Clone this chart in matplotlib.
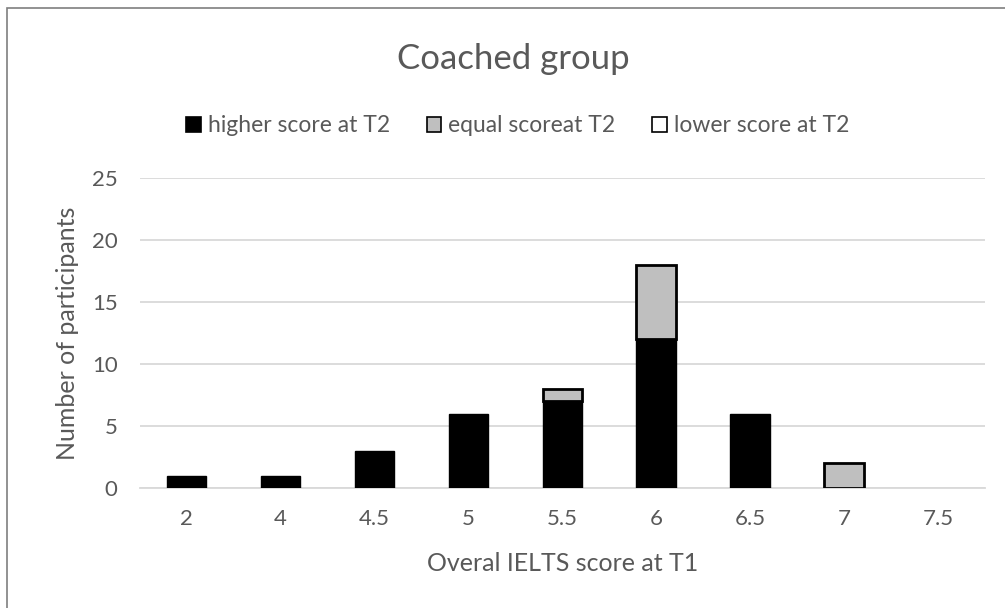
import matplotlib.pyplot as plt
from matplotlib.patches import Rectangle
import numpy as np

# scores at T1 (categories)
scores = ['2', '4', '4.5', '5', '5.5', '6', '6.5', '7', '7.5']
# counts per outcome
higher = [1, 1, 3, 6, 7, 12, 6, 0, 0]
equal = [0, 0, 0, 0, 1, 6, 0, 2, 0]
lower = [0, 0, 0, 0, 0, 0, 0, 0, 0]

plt.rcParams['font.family'] = ['Lato', 'DejaVu Sans']
txt = '#595959'

fig = plt.figure(figsize=(10.05, 6.08), dpi=100)
# outer chart frame
fig.patches.append(Rectangle((0.007, -0.01), 1.1, 0.997, transform=fig.transFigure,
                             fill=False, edgecolor='#7f7f7f', linewidth=1.2))
ax = fig.add_axes([0.139, 0.197, 0.841, 0.51])

x = np.arange(len(scores))
w = 0.42

def lw(vals, width):
    return [width if v > 0 else 0 for v in vals]

ax.bar(x, higher, w, color='black', edgecolor='black', linewidth=lw(higher, 1), zorder=3,
       label='higher score at T2')
ax.bar(x, equal, w, bottom=higher, color='#bfbfbf', edgecolor='black',
       linewidth=lw(equal, 2), zorder=3, label='equal scoreat T2')
bottom2 = np.array(higher) + np.array(equal)
ax.bar(x, lower, w, bottom=bottom2, color='white', edgecolor='black',
       linewidth=lw(lower, 1.5), zorder=3, label='lower score at T2')

ax.set_xlim(-0.5, len(scores) - 0.5)
ax.set_ylim(0, 25)
ax.set_yticks([0, 5, 10, 15, 20, 25])
ax.set_xticks(x)
ax.set_xticklabels(scores)
ax.grid(axis='y', color='#d9d9d9', linewidth=1.3, zorder=0)
ax.set_axisbelow(True)
for s in ['top', 'right', 'left']:
    ax.spines[s].set_visible(False)
ax.spines['bottom'].set_color('#d9d9d9')
ax.spines['bottom'].set_linewidth(1.3)
ax.tick_params(axis='both', length=0, labelsize=16, colors=txt)
ax.tick_params(axis='x', pad=15)
ax.tick_params(axis='y', pad=16)

ax.set_xlabel('Overal IELTS score at T1', fontsize=18, color=txt, va='center')
ax.xaxis.set_label_coords(0.5, -0.242)
ax.set_ylabel('Number of participants', fontsize=18, color=txt, va='center')
ax.yaxis.set_label_coords(-0.086, 0.5)

fig.text(0.511, 0.903, 'Coached group', ha='center', va='center', fontsize=25, color=txt)

h, l = ax.get_legend_handles_labels()
leg = fig.legend(h, l, loc='center', bbox_to_anchor=(0.515, 0.793), ncol=3, frameon=False,
                 fontsize=16.5, handlelength=0.65, handleheight=0.65, handletextpad=0.3,
                 columnspacing=1.6)
for t in leg.get_texts():
    t.set_color(txt)
for p in leg.legend_handles:
    p.set_edgecolor('black')
    p.set_linewidth(1.2)

fig.savefig('out.png', dpi=100)
